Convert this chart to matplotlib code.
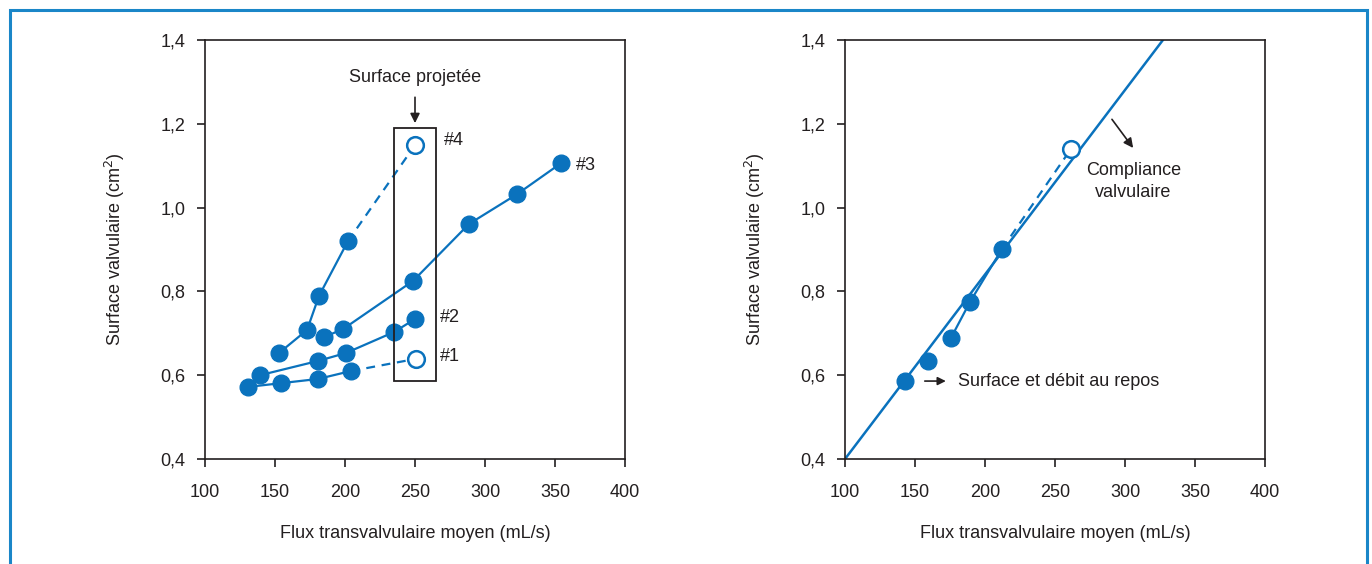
import matplotlib
matplotlib.use('Agg')
import matplotlib.pyplot as plt
from matplotlib.patches import Rectangle
from matplotlib.ticker import FuncFormatter

plt.rcParams['font.family'] = ['Liberation Sans', 'DejaVu Sans']

BLUE = '#0a72bd'
GREY = '#231f20'
FS = 13

# courbes du panneau de gauche (flux mL/s, surface cm2)
s1_x = [130.7, 154.3, 180.7, 204.3]
s1_y = [0.572, 0.581, 0.591, 0.610]
s1_proj = (250.7, 0.639)

s2_x = [139.3, 180.7, 200.7, 235.0, 250.0]
s2_y = [0.600, 0.634, 0.653, 0.703, 0.734]

s3_x = [185.0, 198.6, 248.6, 288.6, 322.9, 354.3]
s3_y = [0.691, 0.710, 0.825, 0.961, 1.032, 1.106]

s4_x = [152.9, 172.9, 181.4, 202.1]
s4_y = [0.653, 0.708, 0.789, 0.920]
s4_proj = (250.0, 1.149)

# panneau de droite
r_x = [142.9, 159.3, 175.7, 189.3, 212.1]
r_y = [0.586, 0.634, 0.689, 0.775, 0.901]
r_proj = (261.4, 1.140)
fit_x = [100, 327.1]
fit_y = [0.4, 1.4]

fig = plt.figure(figsize=(13.72, 5.64), dpi=100)

# cadre bleu
fig.patches.append(Rectangle((10 / 1372, -0.05), 1357 / 1372, 1.05 - 10 / 564,
                             transform=fig.transFigure, fill=False,
                             edgecolor='#1a86c8', linewidth=2.2))

ax1 = fig.add_axes([205 / 1372, 1 - 459 / 564, 420 / 1372, 419 / 564])
ax2 = fig.add_axes([845 / 1372, 1 - 459 / 564, 420 / 1372, 419 / 564])

fmt = FuncFormatter(lambda v, p: f'{v:.1f}'.replace('.', ','))
for ax in (ax1, ax2):
    ax.set_xlim(100, 400)
    ax.set_ylim(0.4, 1.4)
    ax.set_xticks(range(100, 401, 50))
    ax.set_yticks([0.4, 0.6, 0.8, 1.0, 1.2, 1.4])
    ax.yaxis.set_major_formatter(fmt)
    ax.tick_params(direction='out', length=6, width=1.2, color=GREY,
                   labelsize=FS, labelcolor=GREY, pad=12)
    ax.tick_params(axis='y', pad=8)
    for sp in ax.spines.values():
        sp.set_color(GREY)
        sp.set_linewidth(1.2)
    ax.set_xlabel('Flux transvalvulaire moyen (mL/s)', fontsize=FS,
                  color=GREY, labelpad=17)
    ax.set_ylabel('Surface valvulaire (cm$^2$)', fontsize=FS,
                  color=GREY, labelpad=24)

mk = dict(color=BLUE, lw=1.6, marker='o', ms=12, zorder=3)
op = dict(marker='o', ms=12, mfc='white', mec=BLUE, mew=1.8, ls='none', zorder=4)
dash = dict(color=BLUE, lw=1.6, ls=(0, (4, 3)), zorder=2)

# panneau gauche
ax1.plot(s1_x, s1_y, **mk)
ax1.plot([s1_x[-1], s1_proj[0]], [s1_y[-1], s1_proj[1]], **dash)
ax1.plot(*s1_proj, **op)
ax1.plot(s2_x, s2_y, **mk)
ax1.plot(s3_x, s3_y, **mk)
ax1.plot(s4_x, s4_y, **mk)
ax1.plot([s4_x[-1], s4_proj[0]], [s4_y[-1], s4_proj[1]], **dash)
ax1.plot(*s4_proj, **op)

ax1.add_patch(Rectangle((235, 0.586), 30, 0.604, fill=False,
                        edgecolor=GREY, lw=1.3, zorder=5))
ax1.annotate('', xy=(250, 1.195), xytext=(250, 1.27),
             arrowprops=dict(arrowstyle='-|>', color=GREY, lw=1.2,
                             mutation_scale=14))
ax1.text(250, 1.31, 'Surface projetée', ha='center', va='center',
         fontsize=FS, color=GREY)
ax1.text(271, 1.16, '#4', ha='left', va='center', fontsize=FS, color=GREY)
ax1.text(365, 1.10, '#3', ha='left', va='center', fontsize=FS, color=GREY)
ax1.text(268, 0.738, '#2', ha='left', va='center', fontsize=FS, color=GREY)
ax1.text(268, 0.644, '#1', ha='left', va='center', fontsize=FS, color=GREY)

# panneau droit
ax2.plot(fit_x, fit_y, color=BLUE, lw=1.8, zorder=2)
ax2.plot(r_x[:2], r_y[:2], color=BLUE, marker='o', ms=12, ls='none', zorder=3)
ax2.plot(r_x[2:], r_y[2:], **mk)
ax2.plot([r_x[-1], r_proj[0]], [r_y[-1], r_proj[1]], **dash)
ax2.plot(*r_proj, **op)

ax2.annotate('', xy=(174, 0.586), xytext=(155, 0.586),
             arrowprops=dict(arrowstyle='-|>', color=GREY, lw=1.2,
                             mutation_scale=12))
ax2.text(180.5, 0.586, 'Surface et débit au repos', ha='left', va='center',
         fontsize=FS, color=GREY)
ax2.annotate('', xy=(307, 1.137), xytext=(289.5, 1.216),
             arrowprops=dict(arrowstyle='-|>', color=GREY, lw=1.2,
                             mutation_scale=14))
ax2.text(306, 1.063, 'Compliance\nvalvulaire', ha='center', va='center',
         fontsize=FS, color=GREY, linespacing=1.4)

fig.savefig('out.png', dpi=100)
